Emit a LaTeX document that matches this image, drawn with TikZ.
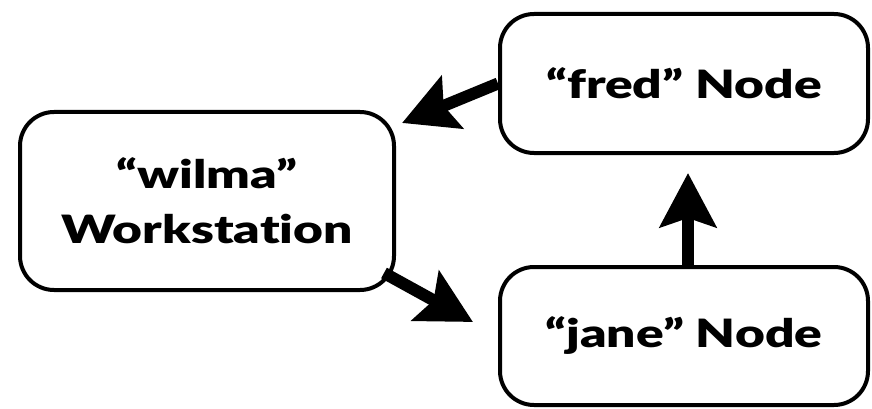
\documentclass[tikz,border=0pt]{standalone}
\usepackage{fontspec}
\setmainfont{Lato}[BoldFont={Lato Black},BoldFeatures={FakeStretch=1.32},Ligatures=NoCommon]
\usetikzlibrary{arrows.meta,calc}
\begin{document}
\begin{tikzpicture}[x=1pt,y=-1pt,
  box/.style={draw=black,line width=4pt,rounded corners=34pt,inner sep=0pt,align=center,
    font=\fontsize{39}{55}\selectfont\bfseries},
  arr/.style={line width=12pt,-{Stealth[length=54pt,width=56pt,inset=9pt]}}]
\useasboundingbox (0,0) rectangle (872,409);
\node[box,minimum width=374pt,minimum height=178pt] (wilma) at (207,201) {“wilma”\\Workstation};
\node[box,minimum width=368pt,minimum height=139pt] (fred) at (684,83.5) {“fred” Node};
\node[box,minimum width=368pt,minimum height=138pt] (jane) at (684,336) {“jane” Node};
\coordinate (t1) at ($(wilma.north east)+(6,13)$);
\coordinate (s2) at ($(wilma.south east)+(-12,-19)$);
\coordinate (t2) at ($(jane.west)+(-25,-14)$);
\coordinate (s3) at ($(jane.north)+(4,0)$);
\coordinate (t3) at ($(fred.south)+(4,18)$);
\draw[arr] (fred.west) -- (t1);
\draw[arr] (s2) -- (t2);
\draw[arr] (s3) -- (t3);
\end{tikzpicture}
\end{document}
